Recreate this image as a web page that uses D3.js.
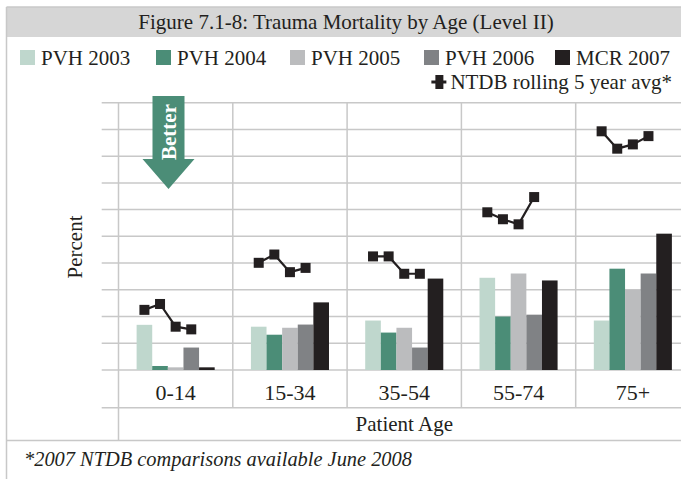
<!DOCTYPE html>
<html>
<head>
<meta charset="utf-8">
<script src="https://cdn.jsdelivr.net/npm/d3@7"></script>
<style>
  html, body { margin: 0; padding: 0; background: #fff; }
  svg { display: block; font-family: "Liberation Serif", "Times New Roman", serif; }
  .grid line { stroke: #c8c8c8; stroke-width: 1.5; }
</style>
</head>
<body>
<svg id="chart" width="681" height="479"></svg>
<script>
(function () {
  'use strict';

  // values (percent)
  const categories = ['0-14', '15-34', '35-54', '55-74', '75+'];
  const seriesNames = ['PVH 2003', 'PVH 2004', 'PVH 2005', 'PVH 2006', 'MCR 2007'];
  const seriesColors = ['#bfd7cd', '#4b8d77', '#bbbcbe', '#808285', '#231f20'];
  const pvh2003 = [1.69, 1.62, 1.85, 3.45, 1.85];
  const pvh2004 = [0.15, 1.32, 1.40, 2.00, 3.79];
  const pvh2005 = [0.10, 1.58, 1.58, 3.61, 3.00];
  const pvh2006 = [0.84, 1.70, 0.84, 2.07, 3.61];
  const mcr2007 = [0.10, 2.53, 3.42, 3.35, 5.10];
  // NTDB rolling 5 year avg, years 2003-2006 only
  const ntdb = [
    [2.25, 2.47, 1.62, 1.52],
    [4.01, 4.32, 3.66, 3.82],
    [4.25, 4.25, 3.60, 3.60],
    [5.90, 5.64, 5.45, 6.47],
    [8.93, 8.28, 8.44, 8.75]
  ];
  const yTicks = [0, 1, 2, 3, 4, 5, 6, 7, 8, 9, 10];

  const seriesValues = [pvh2003, pvh2004, pvh2005, pvh2006, mcr2007];

  const svg = d3.select('#chart');
  const W = 681, H = 479;
  const frameL = 6.5, frameT = 7;
  const plotL = 118.5, plotR = 690, plotT = 102.7, plotB = 370;
  const catRowB = 407.7, ageRowB = 440.5;
  const gridLeft = 101.7;

  // frame + title band
  svg.append('rect')
    .attr('x', frameL).attr('y', frameT)
    .attr('width', W).attr('height', 30)
    .attr('fill', '#d6d6d6');
  svg.append('line')
    .attr('x1', frameL).attr('x2', W).attr('y1', frameT).attr('y2', frameT)
    .attr('stroke', '#c8c8c8').attr('stroke-width', 1.5);
  svg.append('line')
    .attr('x1', frameL).attr('x2', frameL).attr('y1', frameT).attr('y2', H)
    .attr('stroke', '#c8c8c8').attr('stroke-width', 1.5);

  svg.append('text')
    .attr('x', 346).attr('y', 29)
    .attr('text-anchor', 'middle')
    .attr('font-size', 21).attr('fill', '#231f20')
    .text('Figure 7.1-8: Trauma Mortality by Age (Level II)');

  // legend
  const legendX = [20, 156, 290, 424, 555];
  const lg = svg.append('g');
  seriesNames.forEach((name, i) => {
    lg.append('rect')
      .attr('x', legendX[i]).attr('y', 50)
      .attr('width', 15).attr('height', 15)
      .attr('fill', seriesColors[i]);
    lg.append('text')
      .attr('x', legendX[i] + 21).attr('y', 65)
      .attr('font-size', 21).attr('fill', '#231f20')
      .text(name);
  });
  const ntdbLabel = lg.append('text')
    .attr('x', 672).attr('y', 89)
    .attr('text-anchor', 'end')
    .attr('font-size', 21).attr('fill', '#231f20')
    .text('NTDB rolling 5 year avg*');
  const labelStart = 672 - ntdbLabel.node().getComputedTextLength();
  const mx = labelStart - 11;
  lg.append('line')
    .attr('x1', mx - 8).attr('x2', mx + 7).attr('y1', 82).attr('y2', 82)
    .attr('stroke', '#231f20').attr('stroke-width', 3);
  lg.append('rect')
    .attr('x', mx - 4).attr('y', 75).attr('width', 8).attr('height', 14)
    .attr('fill', '#231f20');

  // scales
  const x0 = d3.scaleBand().domain(categories).range([plotL, plotR]).padding(0);
  const x1 = d3.scaleBand().domain(seriesNames).range([0, x0.bandwidth()])
    .paddingInner(0).paddingOuter(1.16);
  const y = d3.scaleLinear().domain([0, 10]).range([plotB, plotT]);

  // grid
  const grid = svg.append('g').attr('class', 'grid');
  grid.selectAll('line.h').data(yTicks).join('line')
    .attr('class', 'h')
    .attr('x1', gridLeft).attr('x2', W)
    .attr('y1', d => y(d)).attr('y2', d => y(d));
  grid.append('line')
    .attr('x1', gridLeft).attr('x2', W).attr('y1', catRowB).attr('y2', catRowB);
  grid.append('line')
    .attr('x1', frameL).attr('x2', W).attr('y1', ageRowB).attr('y2', ageRowB);
  grid.selectAll('line.v').data(categories.slice(1)).join('line')
    .attr('class', 'v')
    .attr('x1', d => x0(d)).attr('x2', d => x0(d))
    .attr('y1', plotT).attr('y2', catRowB);
  grid.append('line')
    .attr('x1', plotL).attr('x2', plotL).attr('y1', plotT).attr('y2', ageRowB);

  // bars
  const barData = [];
  categories.forEach((c, ci) => {
    seriesNames.forEach((s, si) => {
      barData.push({ cat: c, series: s, value: seriesValues[si][ci], color: seriesColors[si] });
    });
  });
  svg.append('g').selectAll('rect').data(barData).join('rect')
    .attr('x', d => x0(d.cat) + x1(d.series))
    .attr('y', d => y(d.value))
    .attr('width', x1.bandwidth())
    .attr('height', d => y(0) - y(d.value))
    .attr('fill', d => d.color);

  // NTDB lines, one per age group
  const lineG = svg.append('g');
  const line = d3.line().x(d => d.x).y(d => d.y);
  categories.forEach((c, ci) => {
    const pts = ntdb[ci].map((v, i) => ({
      x: x0(c) + x1(seriesNames[i]) + x1.bandwidth() / 2,
      y: y(v)
    }));
    lineG.append('path')
      .attr('d', line(pts))
      .attr('fill', 'none')
      .attr('stroke', '#231f20')
      .attr('stroke-width', 2.2);
    lineG.selectAll(null).data(pts).join('rect')
      .attr('x', d => d.x - 5).attr('y', d => d.y - 5)
      .attr('width', 10).attr('height', 10)
      .attr('fill', '#231f20');
  });

  // category labels
  svg.append('g').selectAll('text').data(categories).join('text')
    .attr('x', d => x0(d) + x0.bandwidth() / 2)
    .attr('y', 400)
    .attr('text-anchor', 'middle')
    .attr('font-size', 22).attr('fill', '#231f20')
    .text(d => d);

  svg.append('text')
    .attr('x', (plotL + plotR) / 2).attr('y', 431)
    .attr('text-anchor', 'middle')
    .attr('font-size', 21).attr('fill', '#231f20')
    .text('Patient Age');

  svg.append('text')
    .attr('transform', 'translate(82,247) rotate(-90)')
    .attr('text-anchor', 'middle')
    .attr('font-size', 21).attr('fill', '#231f20')
    .text('Percent');

  svg.append('text')
    .attr('x', 24).attr('y', 466)
    .attr('font-size', 20.4).attr('font-style', 'italic').attr('fill', '#231f20')
    .text('*2007 NTDB comparisons available June 2008');

  // "Better" arrow
  const ax = x0(categories[0]) + 50;
  const arrow = d3.path();
  arrow.moveTo(ax - 16, 96);
  arrow.lineTo(ax + 16, 96);
  arrow.lineTo(ax + 16, 159);
  arrow.lineTo(ax + 26, 159);
  arrow.lineTo(ax, 189);
  arrow.lineTo(ax - 26, 159);
  arrow.lineTo(ax - 16, 159);
  arrow.closePath();
  svg.append('path').attr('d', arrow.toString()).attr('fill', '#4b8d77');
  svg.append('text')
    .attr('transform', `translate(${ax + 7},132) rotate(-90)`)
    .attr('text-anchor', 'middle')
    .attr('font-size', 21).attr('font-weight', 'bold').attr('fill', '#fff')
    .text('Better');
})();
</script>
</body>
</html>
